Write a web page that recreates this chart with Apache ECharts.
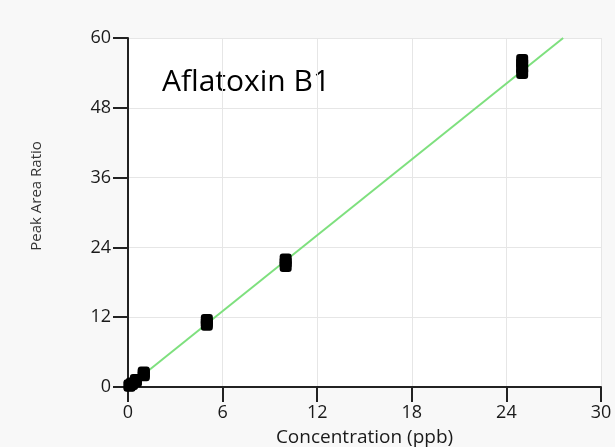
<!DOCTYPE html>
<html><head><meta charset="utf-8">
<script src="https://cdn.jsdelivr.net/npm/echarts@6/dist/echarts.min.js"></script>
<style>html,body{margin:0;padding:0;background:#f8f8f8}#c{width:615px;height:447px}</style>
</head><body><div id="c"></div>
<script>
// Calibration points (concentration ppb, peak area ratio), replicates included
const concentrations = [0.1, 0.1, 0.25, 0.25, 0.5, 0.5, 1, 1, 1, 5, 5, 5, 10, 10, 10, 25, 25, 25, 25];
const peakRatios     = [0.2, 0.3, 0.5, 0.6, 1.0, 1.2, 2.0, 2.3, 2.5, 10.7, 11.1, 11.5, 20.8, 21.4, 21.9, 54.0, 54.8, 55.6, 56.2];
// Fitted calibration line endpoints
const fitX = [0, 27.6];
const fitY = [0, 60];
const xTicks = [0, 6, 12, 18, 24, 30];
const yTicks = [0, 12, 24, 36, 48, 60];
const titleText = 'Aflatoxin B1';
const xName = 'Concentration (ppb)';
const yName = 'Peak Area Ratio';

const chart = echarts.init(document.getElementById('c'));
const font = '"Open Sans", "Noto Sans", sans-serif';
chart.setOption({
  backgroundColor: '#f8f8f8',
  animation: false,
  grid: {left: 128, right: 14, top: 38, bottom: 60, show: true, backgroundColor: '#ffffff', borderWidth: 0,
         containLabel: false, outerBoundsMode: 'none'},
  graphic: [
    {type: 'text', left: 162, top: 67, style: {text: titleText, font: '30px ' + font, fill: '#000'}},
    {type: 'text', x: 37, y: 196, rotation: Math.PI / 2,
     style: {text: yName, font: '15px ' + font, fill: '#333', align: 'center', verticalAlign: 'middle'}}
  ],
  xAxis: {
    type: 'value', min: xTicks[0], max: xTicks[xTicks.length-1], interval: 6,
    name: xName, nameLocation: 'middle', nameGap: 41,
    nameTextStyle: {fontFamily: font, fontSize: 19, color: '#1a1a1a'},
    axisLine: {onZero: false, lineStyle: {color: '#222', width: 2}},
    axisTick: {show: true, length: 15, lineStyle: {color: '#222', width: 2}},
    axisLabel: {fontFamily: font, fontSize: 18, color: '#1a1a1a', margin: 17},
    splitLine: {show: true, lineStyle: {color: '#e6e6e6', width: 1}}
  },
  yAxis: {
    type: 'value', min: yTicks[0], max: yTicks[yTicks.length-1], interval: 12,
    axisLine: {show: true, onZero: false, lineStyle: {color: '#222', width: 2}},
    axisTick: {show: true, length: 15, lineStyle: {color: '#222', width: 2}},
    axisLabel: {fontFamily: font, fontSize: 18, color: '#1a1a1a', margin: 17},
    splitLine: {show: true, lineStyle: {color: '#e6e6e6', width: 1}}
  },
  series: [
    {type: 'line', data: fitX.map((x, i) => [x, fitY[i]]), symbol: 'none', clip: true,
     lineStyle: {color: '#7ee07e', width: 2}, z: 2},
    {type: 'scatter', data: concentrations.map((x, i) => [x, peakRatios[i]]), symbol: 'roundRect', symbolSize: 12,
     itemStyle: {color: '#000', opacity: 1}, z: 3}
  ]
});
</script></body></html>
